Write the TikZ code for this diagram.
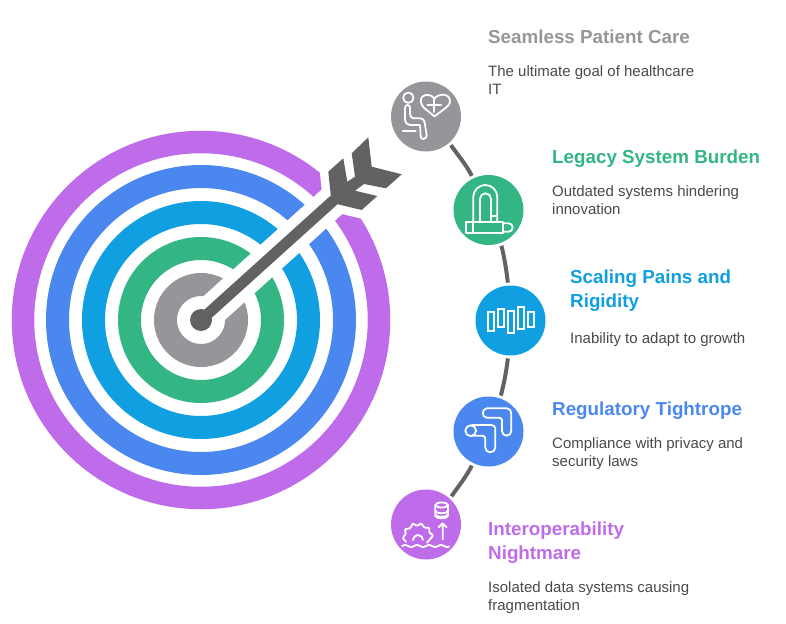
\documentclass[tikz,border=0pt]{standalone}
\usepackage{fontspec}
\setmainfont{Liberation Sans}
\definecolor{careGray}{HTML}{98959A}
\definecolor{burdenGreen}{HTML}{33B584}
\definecolor{scaleCyan}{HTML}{109FE0}
\definecolor{ruleBlue}{HTML}{4A88F0}
\definecolor{interPurple}{HTML}{BF6CEB}
\definecolor{shaftGray}{HTML}{636164}
\definecolor{bodyGray}{HTML}{4A484C}
\tikzset{
  stagenode/.style={circle,minimum size=70pt,inner sep=0pt,outer sep=3pt},
  headtext/.style={anchor=north west,inner sep=0pt,align=left,font=\fontsize{18.8}{24}\selectfont\bfseries},
  bodytext/.style={anchor=north west,inner sep=0pt,align=left,text=bodyGray,font=\fontsize{15}{18}\selectfont},
  ring/.style={line width=#1},
  link/.style={shaftGray,line width=4pt},
  icon/.style={white,line width=1.8pt,line join=round,line cap=round}
}
\begin{document}
\begin{tikzpicture}[x=1pt,y=1pt]
\useasboundingbox (0,0) rectangle (786,-623);
\coordinate (centre) at (201,-320);
\coordinate (tail) at (334,-200);
\draw[interPurple,ring=22.5pt](centre) circle (178);
\draw[ruleBlue,ring=23pt](centre) circle (143.5);
\draw[scaleCyan,ring=23pt](centre) circle (107.5);
\draw[burdenGreen,ring=23pt](centre) circle (71.5);
\draw[careGray,ring=23pt](centre) circle (35.5);
\draw[white,line width=32pt](centre)--(tail);
\path[fill=shaftGray,preaction={draw=white,line width=17pt,line join=round}]
  (368.3,-137.3)--(371.7,-166.7)--(401.7,-174.3)--(386,-188.3)--(364,-184)--(355,-190.7)--(377.3,-196)--(361.7,-210)--(336.7,-204)--(331,-197.3)--(328.3,-171.7)--(343.3,-158.3)--(347.3,-181.7)--(355,-176.7)--(351.7,-153.3)--cycle;
\draw[shaftGray,line width=11pt](centre)--(tail);
\path (centre) node(bull)[circle,fill=shaftGray,minimum size=22pt,inner sep=0pt]{}
(426,-116.5) node(care)[stagenode,fill=careGray]{}
(488.5,-210) node(burden)[stagenode,fill=burdenGreen]{}
(510.5,-320.5) node(scaling)[stagenode,fill=scaleCyan]{}
(488.5,-431.5) node(rules)[stagenode,fill=ruleBlue]{}
(426,-524.5) node(inter)[stagenode,fill=interPurple]{};
\draw[link](care.-49)to [out=-55, in=118](burden.116);
\draw[link](burden.-70)to [out=-77, in=97](scaling.94);
\draw[link](scaling.-94)to [out=-97, in=76](rules.71);
\draw[link](rules.-116)to [out=-118, in=55](inter.48);
\path (488,-30) node(careHead)[headtext,text=careGray]{Seamless Patient Care}
(488,-65.5) node(careBody)[bodytext]{The ultimate goal of healthcare\\IT}
(552,-150) node(burdenHead)[headtext,text=burdenGreen]{Legacy System Burden}
(552,-185.5) node(burdenBody)[bodytext]{Outdated systems hindering\\innovation}
(570,-270) node(scalingHead)[headtext,text=scaleCyan]{Scaling Pains and\\Rigidity}
(570,-332.5) node(scalingBody)[bodytext]{Inability to adapt to growth}
(552,-402) node(rulesHead)[headtext,text=ruleBlue]{Regulatory Tightrope}
(552,-437.5) node(rulesBody)[bodytext]{Compliance with privacy and\\security laws}
(488,-522) node(interHead)[headtext,text=interPurple]{Interoperability\\Nightmare}
(488,-581.5) node(interBody)[bodytext]{Isolated data systems causing\\fragmentation};
\begin{scope}[shift={(care.center)},icon]
\draw (-17.7,18.8) circle (5.2);
\draw (-21,8.2)--(-21,-3.5) to [out=-90, in=180](-16,-8.5)--(-6,-8.5)--(-5.3,-20) to [out=-90, in=180](-2.5,-22.5) to [out=0, in=-90](0.7,-18.5)--(-1,-8.5) to [out=90, in=0](-6,-1.8)--(-12.7,-1.8) to [out=180, in=-90](-16,3)--(-16,9) to [out=90, in=0](-18.5,11.5) to [out=180, in=90]cycle;
\draw (-23.3,-14.5)--(-10.3,-14.5);
\draw (8.5,18) .. controls (5,23) and (-5,24) .. (-5.3,15) .. controls (-5.5,10) and (3,5) .. (8.5,0) .. controls (14,5) and (24,10) .. (24,15) .. controls (24,24) and (12,23) .. (8.5,18);
\draw (1.3,11.5)--(15.3,11.5) (8.3,4.5)--(8.3,18.5);
\end{scope}
\begin{scope}[shift={(burden.center)},icon]
\draw (-22.5,-11.7) rectangle (14.8,-23.3);
\draw (-15.2,-11.7)--(-15.2,-23.3);
\draw (14.8,-13.3)--(20,-13.3) arc (90:-90:4.2)--(14.8,-21.7);
\draw (-15.2,-11.7)--(-15.2,13) arc (180:0:12)--(8.8,-11.7);
\draw (-8.5,-11.7)--(-8.5,11.2) arc (180:0:5.5)--(2.5,-11.7);
\draw (2.5,-6)--(8.8,-6);
\end{scope}
\begin{scope}[shift={(scaling.center)},icon,line cap=butt,line join=miter]
\draw (-22.8,8.2) rectangle (-16.2,-10.2);
\draw (-12.8,11.5) rectangle (-6.2,-6.8);
\draw (-2.8,9.8) rectangle (3.8,-12.2);
\draw (7.2,13.8) rectangle (13.8,-8.5);
\draw (17.2,8.8) rectangle (23.8,-6.2);
\end{scope}
\begin{scope}[shift={(rules.center)},icon]
\draw (-1.5,23.2)--(18.5,23.2) to [out=0, in=90](22.8,18.2)--(22.8,0.5) to [out=-90, in=0](18.2,-4.2) to [out=180, in=-90](13.5,0.5)--(13.5,11.5) to [out=90, in=0](10.2,13.8)--(-1.5,13.8) to [out=180, in=-90](-5.8,18.2) to [out=90, in=180]cycle;
\draw (-17.8,0.8) circle (5.4);
\draw (-16.5,6.5)--(2.8,6.5) to [out=0, in=90](6.8,3.2)--(6.8,-16.2) to [out=-90, in=0](1.8,-20.8) to [out=180, in=-90](-3.2,-16.2)--(-3.2,-6.8) to [out=90, in=0](-6.5,-4.2)--(-16.5,-4.2);
\end{scope}
\begin{scope}[shift={(inter.center)},icon]
\draw (9.3,19.5)--(9.3,8.7) arc (180:360:6.3 and 2.5)--(22,19.5);
\draw (15.7,19.5) ellipse (6.3 and 2.5);
\draw (9.3,13.8) arc (180:360:6.3 and 2.5);
\draw (9.3,10.2) arc (180:360:6.3 and 2.5);
\draw (16.7,-14.8)--(16.7,1.2) (12.7,-2.8)--(16.7,1.2)--(20.7,-2.8);
\draw plot[domain=-24:23,samples=40,smooth] (\x,{-21.5+1*sin(\x*30)});
\draw[rounded corners=1pt] (-20,-17.2)--(-23.3,-13.8)--(-20,-8.8)--(-21.3,-4.8)--(-15.7,-3.8)--(-13.3,1.2)--(-9,-1.5)--(-4.7,1.2)--(-1.7,-3.2)--(3.3,-3.2)--(3.3,-8.2)--(7.3,-10.8)--(3.3,-15.5)--(1,-18.2);
\draw (-13,-15.5) arc (180:0:5);
\end{scope}
\end{tikzpicture}
\end{document}
